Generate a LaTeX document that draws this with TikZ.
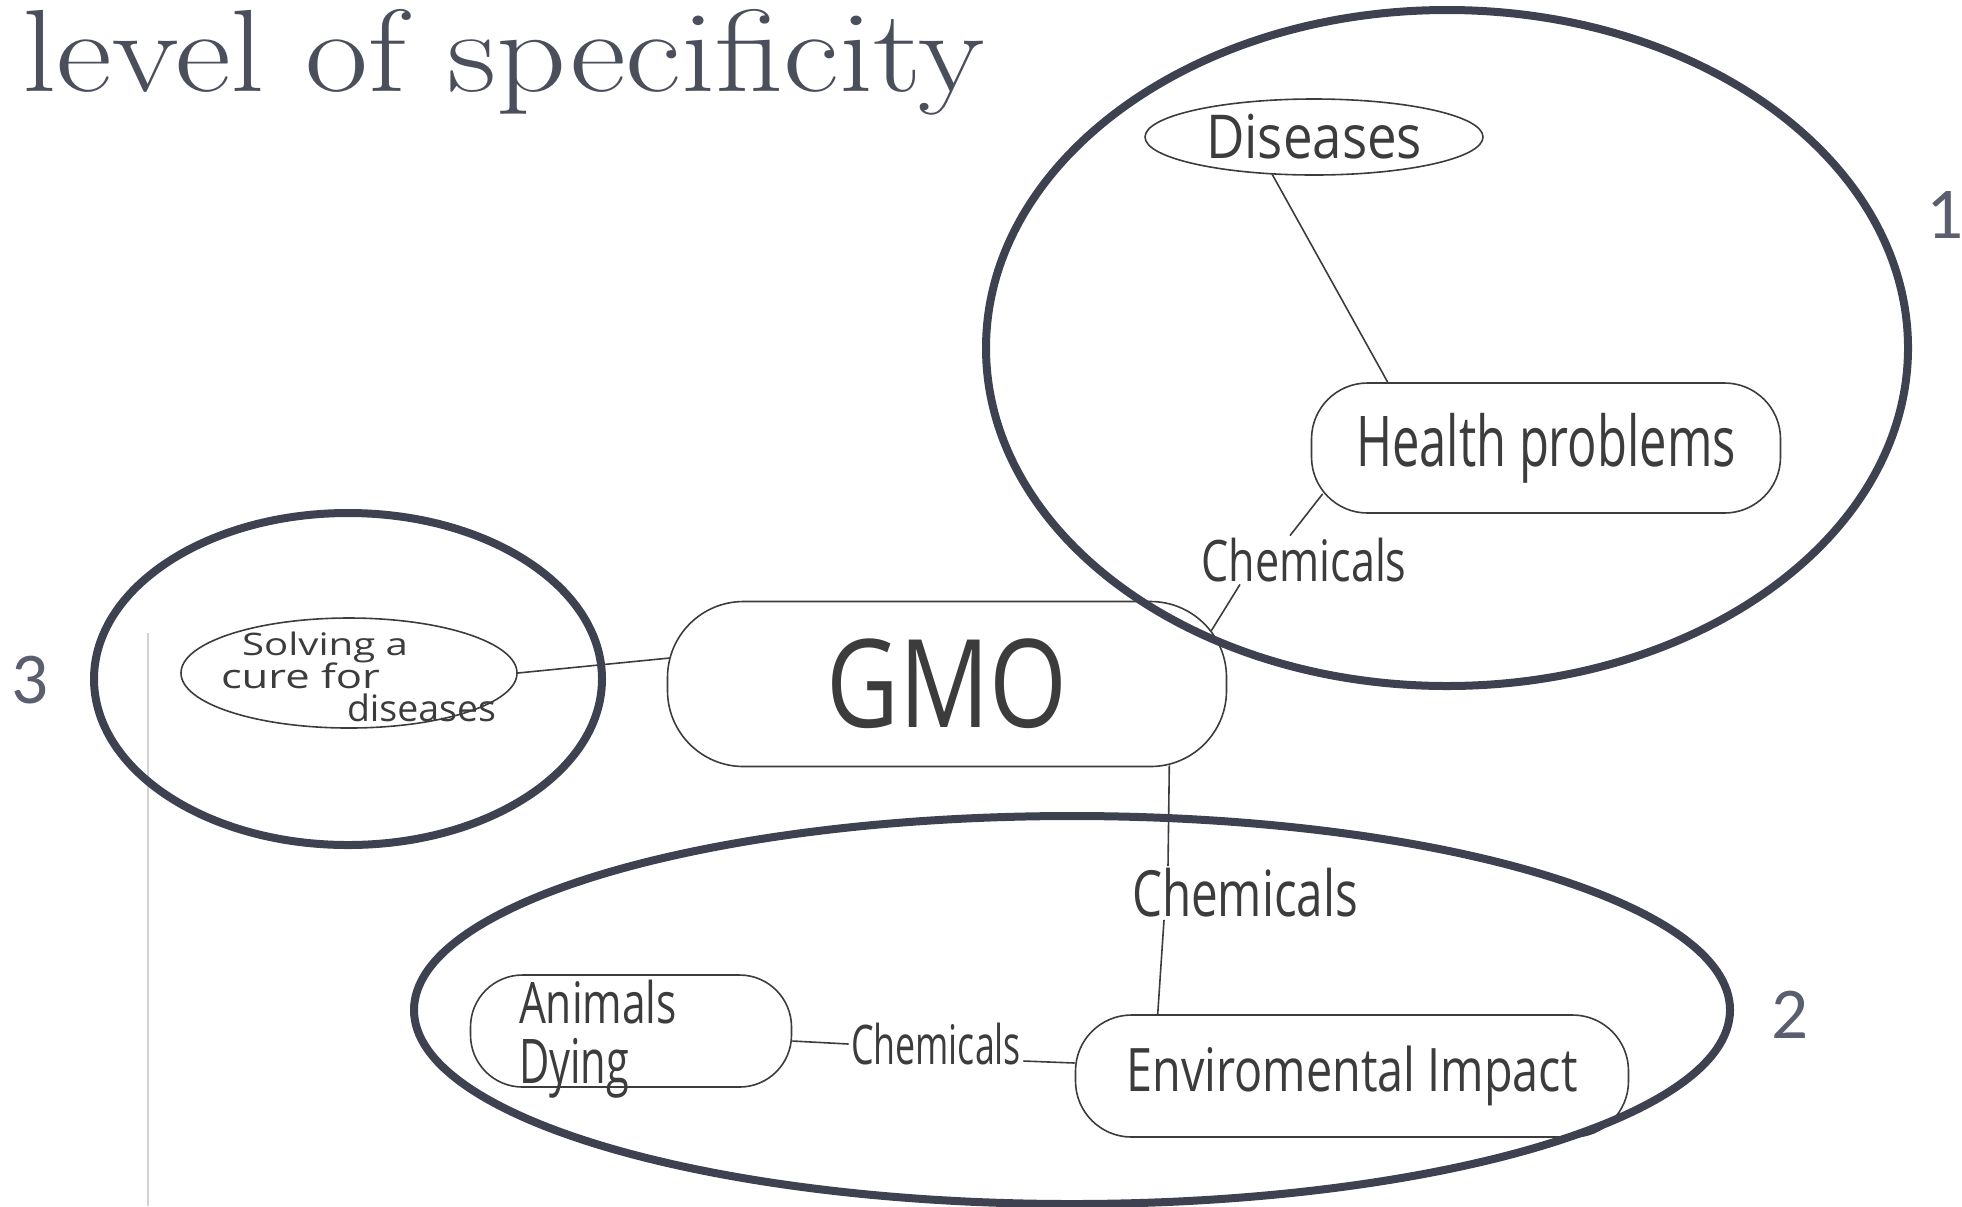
\documentclass[tikz,border=0pt]{standalone}
\usepackage{fontspec}
\usepackage{graphicx}
\usetikzlibrary{shapes.geometric,calc}
\newfontfamily\digitfont{Carlito}
\newfontfamily\handfont{Open Sans}
\definecolor{titlegray}{RGB}{75,79,92}
\definecolor{ringcolor}{RGB}{62,65,80}
\definecolor{numgray}{RGB}{90,94,110}
\definecolor{pencil}{RGB}{60,60,60}
% handwritten word, squeezed into a given width and total height
\newcommand{\hw}[3]{\resizebox*{#1}{#2}{\handfont #3}}
% several handwritten lines that do not change the size of their node:
% #1 = drop of the last baseline below the node centre, #2 = line distance
\newcommand{\hwlines}[3]{\makebox[0pt]{\raisebox{-#1}[0pt][0pt]{\vbox{\baselineskip=#2\lineskiplimit=-100pt #3}}}}

\begin{document}
\begin{tikzpicture}[x=0.5pt,y=-0.5pt,
  ring/.style={draw=ringcolor,line width=4pt},
  concept/.style={draw=pencil,line width=0.8pt,inner sep=0pt,text=pencil},
  oval/.style={concept,ellipse},
  blob/.style={concept,rectangle},
  link/.style={draw=pencil,line width=0.8pt},
  tag/.style={inner sep=1pt,text=pencil},
  num/.style={inner sep=0pt,text=numgray,font=\digitfont\fontsize{36.5pt}{36.5pt}\selectfont}]
\useasboundingbox (0,0) rectangle (1962,1206);

% heading
\node[anchor=base west,inner sep=0pt,text=titlegray,
      font=\fontsize{58.5pt}{58.5pt}\selectfont] (title) at (22,91)
      {\scalebox{1.169}[1]{level of specificity}};

% edge of the scanned sheet
\draw[gray!35,line width=1pt] (148,633) -- (148,1206);

% concept map
\node[oval,minimum width=169pt,minimum height=38pt] (dis) at (1314,137)
  {\hw{108pt}{22.5pt}{Diseases}};
\node[blob,rounded corners=28pt,minimum width=234.5pt,minimum height=65pt] (hp) at (1546,448)
  {\hw{190pt}{35pt}{Health problems}};
\node[tag] (c1) at (1304,560) {\hw{102.5pt}{22pt}{Chemicals}};
\node[blob,rounded corners=38pt,minimum width=279.5pt,minimum height=82.5pt] (gmo) at (947,684)
  {\hw{120.5pt}{45pt}{GMO}};
\node[oval,minimum width=168pt,minimum height=55pt] (sol) at (349,673)
  {\hwlines{24pt}{16.5pt}{%
     \hbox{\hspace*{20pt}\hw{83pt}{15.5pt}{Solving a}}
     \hbox{\hspace*{9.5pt}\hw{79.5pt}{13pt}{cure for}}
     \hbox{\hspace*{72.5pt}\hw{74.5pt}{14pt}{diseases}}}};
\node[tag] (c2) at (1245,893) {\hw{113pt}{24.5pt}{Chemicals}};
\node[blob,rounded corners=28pt,minimum width=276.5pt,minimum height=61pt] (env) at (1352,1076)
  {\hw{225.5pt}{30pt}{Enviromental Impact}};
\node[blob,rounded corners=26pt,minimum width=160.5pt,minimum height=56pt] (ani) at (631,1031)
  {\hwlines{26pt}{30pt}{%
     \hbox{\hw{79pt}{22pt}{Animals}\hspace*{33pt}}
     \hbox{\hw{55pt}{30pt}{Dying}}}};
\node[tag] (c3) at (936,1044) {\hw{85pt}{21pt}{Chemicals}};

\draw[link] ($(dis.center)+(-42,37)$) -- ($(hp.north west)+(77,0)$);
\draw[link] ($(hp.south west)+(12,-20)$) -- ($(c1.north)+(-14,0)$);
\draw[link] ($(c1.south)+(-64,0)$) -- ($(gmo.north east)+(-16,30)$);
\draw[link] (sol.east) -- ($(gmo.west)+(3,-26)$);
\draw[link] ($(gmo.south east)+(-58,-2)$) -- ($(c2.north)+(-77,0)$);
\draw[link] ($(c2.south)+(-81,0)$) -- ($(env.north west)+(83,0)$);
\draw[link] ($(ani.east)+(0,10)$) -- (c3.west);
\draw[link] ($(c3.east)+(0,17)$) -- ($(env.west)+(0,-13)$);

% levels of specificity
\draw[ring] (1447,348) ellipse [x radius=230.5pt, y radius=169pt];
\draw[ring] (1072,1010) ellipse [x radius=329pt, y radius=97pt];
\draw[ring] (348,679) ellipse [x radius=127pt, y radius=83pt];

\node[num] (n1) at (1945,215) {1};
\node[num] (n2) at (1790,1015) {2};
\node[num] (n3) at (30,680) {3};
\end{tikzpicture}
\end{document}
